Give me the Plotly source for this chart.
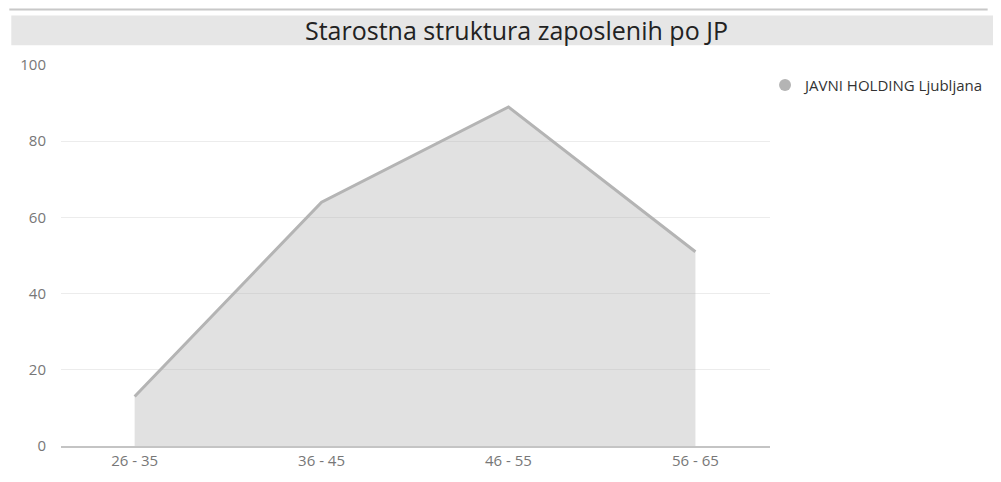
import plotly.graph_objects as go

categories = ["26 - 35", "36 - 45", "46 - 55", "56 - 65"]
values = [13, 64, 89, 51]
series_name = "JAVNI HOLDING Ljubljana"
title_text = "Starostna struktura zaposlenih po JP"
y_ticks = [0, 20, 40, 60, 80, 100]

fig = go.Figure()

fig.add_trace(
    go.Scatter(
        x=categories, y=values,
        mode="lines", name=series_name,
        line=dict(color="#b4b4b4", width=3),
        fill="tozeroy",
        fillcolor="rgba(180,180,180,0.4)",
        showlegend=False,
    )
)

# legend entry with a round marker
fig.add_trace(
    go.Scatter(
        x=[None], y=[None],
        mode="markers", name=series_name,
        marker=dict(color="#b4b4b4", size=14, symbol="circle"),
    )
)

# page body has an 8px margin, so the figure is a bit smaller than the window
fig.update_layout(
    width=993,
    height=474,
    margin=dict(l=52, r=226, t=57, b=31),
    paper_bgcolor="white",
    plot_bgcolor="white",
    font=dict(family="Open Sans, Noto Sans, sans-serif", color="#777777", size=15),
    legend=dict(
        x=0.993, y=0.99, xanchor="left", yanchor="top",
        font=dict(size=15, color="#333333"),
        itemsizing="constant",
    ),
    shapes=[
        # thin line across the top
        dict(type="line", xref="paper", yref="paper",
             x0=-0.0729, x1=1.307, y0=1.1458, y1=1.1458,
             line=dict(color="#c8c8c8", width=2)),
        # title bar
        dict(type="rect", xref="paper", yref="paper",
             x0=-0.0701, x1=1.32, y0=1.0521, y1=1.1302,
             fillcolor="#e6e6e6", line=dict(width=0), layer="below"),
    ],
    annotations=[
        dict(text=title_text, xref="paper", yref="paper",
             x=0.643, y=1.0911, xanchor="center", yanchor="middle",
             showarrow=False,
             font=dict(family="Open Sans, sans-serif", size=25, color="#222222")),
    ],
)

fig.update_xaxes(
    type="category",
    range=[-0.394, 3.399],
    showgrid=False,
    showline=True, linecolor="#c4c4c4", linewidth=2,
    ticks="", tickfont=dict(size=15, color="#777777"),
    zeroline=False,
)
fig.update_yaxes(
    range=[0, 100],
    tickvals=y_ticks,
    showgrid=True, gridcolor="#ececec", gridwidth=1,
    zeroline=False, showline=False,
    ticks="", ticklabelstandoff=14,
    tickfont=dict(size=15, color="#777777"),
)

fig.write_html("out.html")
